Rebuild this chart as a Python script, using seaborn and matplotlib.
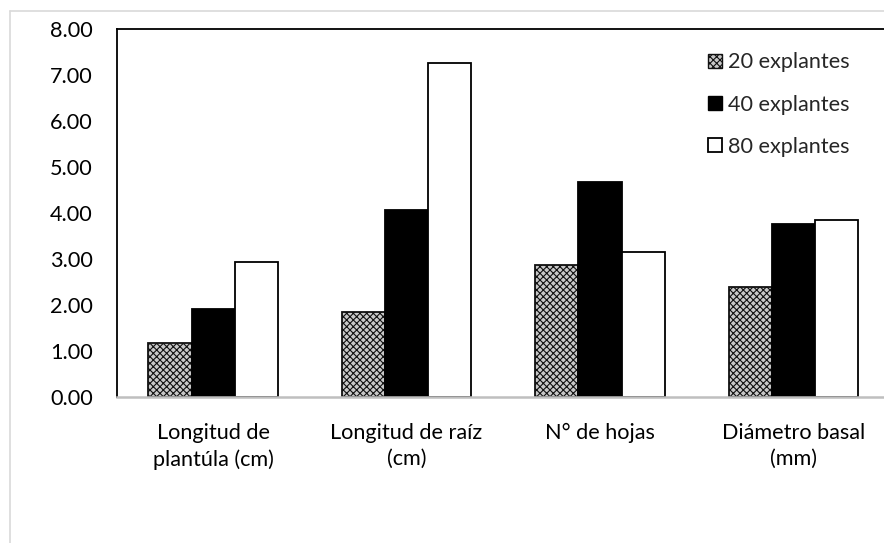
import matplotlib
matplotlib.use("Agg")
import matplotlib.pyplot as plt
import seaborn as sns
import pandas as pd
from matplotlib.lines import Line2D
from matplotlib.patches import Patch
from matplotlib.ticker import FixedLocator, FormatStrFormatter

categories = ["Longitud de\nplantúla (cm)", "Longitud de raíz\n(cm)", "N° de hojas", "Diámetro basal\n(mm)"]
series = ["20 explantes", "40 explantes", "80 explantes"]
v20 = [1.19, 1.86, 2.88, 2.39]
v40 = [1.92, 4.07, 4.67, 3.76]
v80 = [2.95, 7.27, 3.15, 3.85]
yticks = [0, 1, 2, 3, 4, 5, 6, 7, 8]

rows = []
for s, vals in zip(series, [v20, v40, v80]):
    for c, v in zip(categories, vals):
        rows.append({"cat": c, "serie": s, "valor": v})
df = pd.DataFrame(rows)

sns.set_style("white")
plt.rcParams["font.family"] = ["Lato", "DejaVu Sans"]
plt.rcParams["hatch.linewidth"] = 0.8

FS = 15.6
fig = plt.figure(figsize=(8.84, 5.43), dpi=100)
ax = fig.add_axes([116.5 / 884, 0.268, (890 - 116.5) / 884, 0.6786])

palette = {"20 explantes": "#c8c8c8", "40 explantes": "black", "80 explantes": "white"}
sns.barplot(data=df, x="cat", y="valor", hue="serie", order=categories, hue_order=series,
            palette=palette, saturation=1, width=0.67, edgecolor="black", linewidth=1.3,
            legend=False, ax=ax, errorbar=None)

for p in ax.containers[0].patches:
    p.set_hatch("xxxxx")
    p.set_edgecolor("#111111")

ax.set_xlim(-0.5, 3.5)
ax.set_ylim(0, 8)
ax.set_yticks(yticks)
ax.yaxis.set_major_formatter(FormatStrFormatter("%.2f"))
ax.set_xlabel("")
ax.set_ylabel("")

ax.tick_params(axis="y", length=0, pad=17, labelsize=FS, colors="black")
ax.tick_params(axis="x", which="major", length=0, pad=18.5, labelsize=FS, colors="black")
ax.xaxis.set_minor_locator(FixedLocator([-0.5, 0.5, 1.5, 2.5, 3.5]))
ax.tick_params(axis="x", which="minor", length=5, width=1.8, color="#bfbfbf", direction="out")
for lbl in ax.get_xticklabels():
    lbl.set_linespacing(1.37)

ax.spines["left"].set_color("black")
ax.spines["left"].set_linewidth(1.3)
ax.spines["top"].set_color("black")
ax.spines["top"].set_linewidth(1.3)
ax.spines["right"].set_visible(False)
ax.spines["bottom"].set_color("#bfbfbf")
ax.spines["bottom"].set_linewidth(1.8)

leg_handles = [
    Patch(facecolor="#c8c8c8", edgecolor="#111111", hatch="xxxxx", linewidth=1.0),
    Patch(facecolor="black", edgecolor="black", linewidth=1.0),
    Patch(facecolor="white", edgecolor="black", linewidth=1.3),
]
ax.legend(leg_handles, series, loc="upper left", bbox_to_anchor=(707.7 / 884, 1 - 52.5 / 543),
          bbox_transform=fig.transFigure, frameon=False, fontsize=FS, handlelength=0.66,
          handleheight=0.66, handletextpad=0.28, labelspacing=1.02, borderpad=0, borderaxespad=0)

# outer light-gray chart frame (left and top visible)
fig.add_artist(Line2D([9.5 / 884, 9.5 / 884], [0, 1 - 11 / 543], transform=fig.transFigure,
                      color="#d9d9d9", linewidth=1.2))
fig.add_artist(Line2D([9.5 / 884, 1], [1 - 11 / 543, 1 - 11 / 543], transform=fig.transFigure,
                      color="#d9d9d9", linewidth=1.2))

# align y tick labels so their right edge sits at x = 93 px
fig.canvas.draw()
renderer = fig.canvas.get_renderer()
bb = ax.get_yticklabels()[-1].get_window_extent(renderer)
delta_px = 93 - bb.x1
ax.tick_params(axis="y", pad=17 - delta_px * 72 / fig.dpi)

fig.savefig("out.png", dpi=100, facecolor="white")
